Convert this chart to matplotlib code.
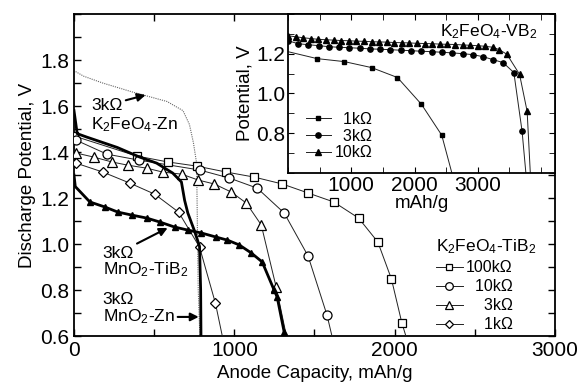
import matplotlib
matplotlib.use("Agg")
import matplotlib.pyplot as plt
from matplotlib.ticker import MultipleLocator, FixedLocator

plt.rcParams['font.family'] = ['Liberation Sans', 'DejaVu Sans']
plt.rcParams['mathtext.fontset'] = 'custom'
plt.rcParams['mathtext.rm'] = 'Liberation Sans'
plt.rcParams['mathtext.it'] = 'Liberation Sans'

# ---------------- main plot data ----------------
# K2FeO4-TiB2 series
tib_100k_x = [0, 390, 585, 765, 950, 1125, 1300, 1460, 1620, 1775, 1895, 1980, 2045, 2070]
tib_100k_y = [1.47, 1.383, 1.357, 1.339, 1.313, 1.291, 1.261, 1.222, 1.183, 1.113, 1.009, 0.848, 0.657, 0.6]
tib_10k_x = [12, 205, 404, 783, 969, 1143, 1311, 1460, 1578, 1609]
tib_10k_y = [1.452, 1.391, 1.365, 1.322, 1.287, 1.243, 1.135, 0.948, 0.691, 0.6]
tib_3k_x = [12, 124, 236, 335, 453, 553, 671, 776, 876, 981, 1075, 1168, 1261, 1325]
tib_3k_y = [1.396, 1.378, 1.357, 1.343, 1.330, 1.313, 1.304, 1.278, 1.261, 1.226, 1.178, 1.083, 0.813, 0.6]
tib_1k_x = [12, 180, 348, 503, 652, 783, 882, 925]
tib_1k_y = [1.352, 1.313, 1.265, 1.217, 1.139, 0.987, 0.743, 0.6]

# 3kOhm K2FeO4-Zn (dotted)
fezn_x = [10, 60, 180, 370, 580, 680, 720, 745, 765, 770, 775, 785]
fezn_y = [1.75, 1.73, 1.70, 1.66, 1.62, 1.58, 1.52, 1.44, 1.35, 1.05, 0.8, 0.6]

# 3kOhm MnO2-Zn (thick line)
mnzn_x = [0, 20, 80, 270, 410, 515, 615, 670, 690, 710, 750, 783, 790, 792]
mnzn_y = [1.58, 1.48, 1.465, 1.42, 1.378, 1.352, 1.309, 1.27, 1.19, 1.135, 1.06, 0.99, 0.8, 0.6]

# 3kOhm MnO2-TiB2 (thick line, filled triangles)
mntib_x = [0, 8, 99, 193, 273, 360, 453, 534, 627, 708, 795, 888, 957, 1031, 1106, 1174, 1248, 1267, 1311]
mntib_y = [1.30, 1.25, 1.183, 1.161, 1.139, 1.126, 1.113, 1.096, 1.074, 1.061, 1.048, 1.030, 1.017, 0.996, 0.961, 0.922, 0.80, 0.77, 0.617]

tib_labels = ["100k\u03a9", "  10k\u03a9", "    3k\u03a9", "    1k\u03a9"]

# ---------------- inset data (K2FeO4-VB2) ----------------
vb_1k_x = [0, 460, 890, 1320, 1730, 2110, 2430, 2590]
vb_1k_y = [1.21, 1.175, 1.16, 1.13, 1.08, 0.945, 0.79, 0.6]
vb_3k_x = [0, 160, 320, 490, 650, 810, 970, 1140, 1300, 1460, 1620, 1790, 1950, 2110, 2270,
           2430, 2590, 2760, 2920, 3080, 3240, 3400, 3570, 3700, 3760]
vb_3k_y = [1.265, 1.25, 1.245, 1.24, 1.235, 1.232, 1.23, 1.227, 1.224, 1.222, 1.22, 1.217, 1.215,
           1.212, 1.21, 1.207, 1.204, 1.2, 1.195, 1.185, 1.17, 1.155, 1.105, 0.81, 0.6]
vb_10k_x = [0, 120, 240, 360, 480, 600, 720, 840, 960, 1080, 1200, 1320, 1440, 1560, 1680, 1800,
            1920, 2040, 2160, 2280, 2400, 2520, 2640, 2760, 2880, 3000, 3120, 3240, 3340, 3460,
            3660, 3780, 3830]
vb_10k_y = [1.29, 1.285, 1.28, 1.276, 1.272, 1.27, 1.268, 1.266, 1.265, 1.263, 1.262, 1.26, 1.259,
            1.258, 1.256, 1.255, 1.254, 1.252, 1.251, 1.25, 1.248, 1.247, 1.246, 1.244, 1.242, 1.24,
            1.237, 1.232, 1.22, 1.197, 1.096, 0.91, 0.6]
vb_labels = ["  1k\u03a9", "  3k\u03a9", "10k\u03a9"]

# ---------------- figure ----------------
fig = plt.figure(figsize=(5.79, 3.86), dpi=100)
ax = fig.add_axes([0.1278, 0.1295, 0.8307, 0.834])

thin = dict(color='#222222', lw=0.7)
mk = dict(mfc='white', mec='black', mew=0.9, ls='none')

ax.plot(fezn_x, fezn_y, color='#666666', lw=0.8, ls=(0, (1, 1)), zorder=2)
h = []
for xs, ys, m, ms in [(tib_100k_x, tib_100k_y, 's', 5.5), (tib_10k_x, tib_10k_y, 'o', 6.5),
                      (tib_3k_x, tib_3k_y, '^', 7), (tib_1k_x, tib_1k_y, 'D', 5.5)]:
    ax.plot(xs, ys, zorder=3, **thin)
    ax.plot(xs[:-1], ys[:-1], marker=m, ms=ms, zorder=4, **mk)
    h.append(plt.Line2D([], [], marker=m, mfc='white', mec='black', mew=0.9, ms=ms - 1, **thin))

ax.plot(mnzn_x, mnzn_y, color='black', lw=2.0, zorder=5)
ax.plot(mntib_x, mntib_y, color='black', lw=2.0, zorder=5)
ax.plot(mntib_x[2:], mntib_y[2:], ls='none', marker='^', color='black', ms=5, zorder=6)

ax.set_xlim(0, 3000)
ax.set_ylim(0.6, 2.0)
ax.xaxis.set_major_locator(FixedLocator([0, 1000, 2000, 3000]))
ax.xaxis.set_minor_locator(MultipleLocator(500))
ax.yaxis.set_major_locator(FixedLocator([0.6, 0.8, 1.0, 1.2, 1.4, 1.6, 1.8]))
ax.yaxis.set_minor_locator(MultipleLocator(0.1))
ax.tick_params(which='both', direction='in', top=True, right=True, labelsize=15, width=1, length=5)
for s in ax.spines.values():
    s.set_linewidth(1.3)
ax.set_xlabel("Anode Capacity, mAh/g", fontsize=13.5, labelpad=4)
ax.set_ylabel("Discharge Potential, V", fontsize=13.5, labelpad=3)

# annotations
ann = dict(fontsize=12.5, linespacing=1.05, ha='left', va='center')
arr = dict(arrowstyle='-|>', color='black', lw=1.5, mutation_scale=12, shrinkA=0, shrinkB=0)
ax.annotate("3k\u03a9", xy=(447, 1.648), xytext=(110, 1.604), arrowprops=arr, **ann)
ax.text(105, 1.52, "K$_2$FeO$_4$-Zn", **ann)
ax.annotate("3k\u03a9", xy=(584, 1.07), xytext=(180, 0.961), arrowprops=arr, **ann)
ax.text(180, 0.89, "MnO$_2$-TiB$_2$", **ann)
ax.text(180, 0.76, "3k\u03a9", **ann)
ax.annotate("MnO$_2$-Zn", xy=(778, 0.683), xytext=(180, 0.683), arrowprops=arr, **ann)

leg = ax.legend(h, tib_labels, title="K$_2$FeO$_4$-TiB$_2$", loc='lower left',
                bbox_to_anchor=(0.752, 0.012), frameon=False, fontsize=11.5, title_fontsize=12.5,
                handlelength=1.7, handletextpad=0.2, labelspacing=0.25, borderaxespad=0.0,
                borderpad=0.0, alignment='left')

# ---------------- inset ----------------
ax2 = fig.add_axes([0.4974, 0.552, 0.4611, 0.412])
ax2.plot(vb_1k_x, vb_1k_y, color='#222222', lw=0.7, marker='s', ms=3.2, mfc='black', mec='black',
         markevery=list(range(1, len(vb_1k_x) - 1)), label=vb_labels[0])
ax2.plot(vb_3k_x, vb_3k_y, color='#222222', lw=0.7, marker='o', ms=3.8, mfc='black', mec='black',
         markevery=list(range(0, len(vb_3k_x) - 1)), label=vb_labels[1])
ax2.plot(vb_10k_x, vb_10k_y, color='#222222', lw=0.7, marker='^', ms=4.2, mfc='black', mec='black',
         markevery=list(range(0, len(vb_10k_x) - 1)), label=vb_labels[2])
ax2.set_xlim(0, 4220)
ax2.set_ylim(0.6, 1.4)
ax2.xaxis.set_major_locator(FixedLocator([1000, 2000, 3000]))
ax2.xaxis.set_minor_locator(MultipleLocator(500))
ax2.yaxis.set_major_locator(FixedLocator([0.8, 1.0, 1.2]))
ax2.yaxis.set_minor_locator(MultipleLocator(0.1))
ax2.tick_params(which='both', direction='in', top=True, right=True, labelsize=15, length=4, pad=2)
for s in ax2.spines.values():
    s.set_linewidth(1.3)
ax2.set_xlabel("mAh/g", fontsize=13.5, labelpad=0)
ax2.set_ylabel("Potential, V", fontsize=13.5, labelpad=2)
ax2.text(2400, 1.309, "K$_2$FeO$_4$-VB$_2$", fontsize=12.5, ha='left', va='center')
ax2.legend(loc='lower left', bbox_to_anchor=(0.03, 0.02), frameon=False, fontsize=11.5,
           handlelength=1.6, handletextpad=0.2, labelspacing=0.1, borderaxespad=0.2)

fig.savefig("out.png", dpi=100)
